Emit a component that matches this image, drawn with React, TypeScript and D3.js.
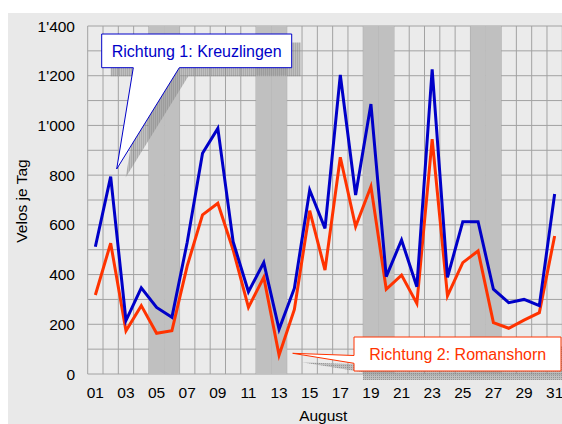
import React from "react";
import * as d3 from "d3";

const days = d3.range(1, 32);
const richtung1 = [512, 794, 215, 347, 268, 228, 530, 888, 988, 532, 331, 448, 180, 345, 740, 586, 1203, 720, 1086, 392, 539, 351, 1226, 389, 613, 613, 341, 287, 300, 275, 724];
const richtung2 = [318, 526, 174, 275, 164, 174, 435, 640, 687, 499, 268, 389, 76, 260, 657, 418, 872, 593, 754, 341, 398, 284, 945, 314, 448, 495, 207, 184, 217, 247, 555];
const weekendDays = [5, 6, 12, 13, 19, 20, 26, 27];
const yTicks = [0, 200, 400, 600, 800, 1000, 1200, 1400];
const yGrid = d3.range(0, 1500, 100);
const xTickDays = days.filter((d) => d % 2 === 1);
const label1 = "Richtung 1: Kreuzlingen";
const label2 = "Richtung 2: Romanshorn";
const xTitle = "August";
const yTitle = "Velos je Tag";

const W = 562;
const H = 424;
const L = 87.7;
const R = 562.3;
const T = 26;
const B = 374;
const BLUE = "#0000c8";
const RED = "#ff3300";
const FONT = "Liberation Sans, Arial, sans-serif";

const fmtY = (v: number) => {
  if (v < 1000) return String(v);
  const s = String(v);
  return s.slice(0, s.length - 3) + "'" + s.slice(s.length - 3);
};
const fmtX = (d: number) => (d < 10 ? "0" + d : String(d));

export default function App() {
  const x = d3.scaleBand<number>().domain(days).range([L, R]).padding(0);
  const y = d3.scaleLinear().domain([0, 1400]).range([B, T]);
  const cx = (d: number) => (x(d) as number) + x.bandwidth() / 2;
  const line = d3
    .line<number>()
    .x((_, i) => cx(days[i]))
    .y((v) => y(v));

  const c1 = "M101.7,34 H291.7 V67.7 H179.3 L116.7,169 L133.3,67.7 H101.7 Z";
  const c2 = "M354,337 H561 V371 H354 V363.3 L292.7,353.3 L354,355.5 Z";

  return (
    <svg width={W} height={H} style={{ position: "absolute", left: 0, top: 0 }} fontFamily={FONT}>
      <defs>
        <pattern id="hatch" width="2" height="2" patternUnits="userSpaceOnUse">
          <rect width="2" height="2" fill="#9a9a9a" opacity="0.55" />
          <rect width="1" height="1" fill="#707070" opacity="0.5" />
        </pattern>
      </defs>
      <rect x={8} y={13} width={W - 8} height={H - 13} fill="#e9e9e9" />
      <rect x={L} y={T} width={R - L} height={B - T} fill="#ebebeb" />
      {yGrid.map((v) => (
        <line key={"h" + v} x1={L} x2={R} y1={y(v)} y2={y(v)} stroke="#a2a2a2" strokeWidth={1} />
      ))}
      {days.concat([32]).map((d) => {
        const xx = d === 32 ? R : (x(d) as number);
        return <line key={"v" + d} x1={xx} x2={xx} y1={T} y2={B} stroke="#a2a2a2" strokeWidth={1} />;
      })}
      {weekendDays.map((d) => (
        <rect key={"w" + d} x={x(d)} y={T} width={x.bandwidth()} height={B - T} fill="#c0c0c0" />
      ))}
      <path d={line(richtung2) || ""} fill="none" stroke={RED} strokeWidth={3} strokeLinejoin="miter" />
      <path d={line(richtung1) || ""} fill="none" stroke={BLUE} strokeWidth={3} strokeLinejoin="miter" />
      {yTicks.map((v) => (
        <text key={"yt" + v} x={75} y={y(v) + 5.5} textAnchor="end" fontSize={15.5} fill="#000">
          {fmtY(v)}
        </text>
      ))}
      {xTickDays.map((d) => (
        <text key={"xt" + d} x={cx(d)} y={398.3} textAnchor="middle" fontSize={15.5} fill="#000">
          {fmtX(d)}
        </text>
      ))}
      <text x={323.3} y={420.5} textAnchor="middle" fontSize={15.5} fill="#000">
        {xTitle}
      </text>
      <text transform={`translate(26.5,201) rotate(-90)`} textAnchor="middle" fontSize={15.5} fill="#000">
        {yTitle}
      </text>
      <path d={c1} transform="translate(9,8.5)" fill="url(#hatch)" />
      <path d={c1} fill="#ffffff" stroke={BLUE} strokeWidth={1} />
      <text x={196.7} y={56.7} textAnchor="middle" fontSize={16} fill={BLUE}>
        {label1}
      </text>
      <path d={c2} transform="translate(9,9)" fill="url(#hatch)" />
      <path d={c2} fill="#ffffff" stroke={RED} strokeWidth={1} />
      <text x={457.7} y={360} textAnchor="middle" fontSize={16} fill={RED}>
        {label2}
      </text>
    </svg>
  );
}
